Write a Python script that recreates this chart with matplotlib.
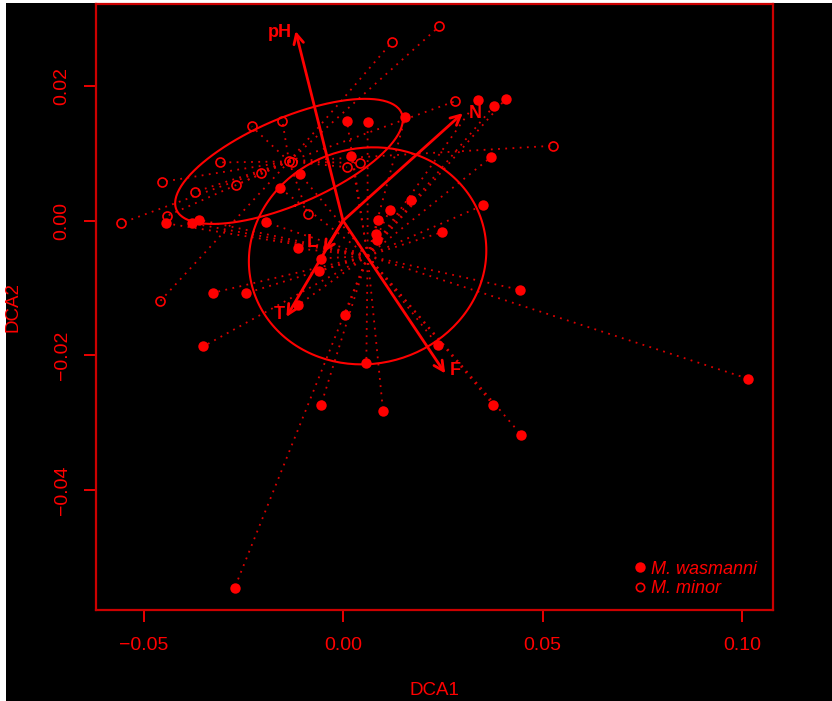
import numpy as np
import matplotlib
matplotlib.use("Agg")
import matplotlib.pyplot as plt
from matplotlib.lines import Line2D
from matplotlib.patches import Rectangle

plt.rcParams['font.family'] = ['Liberation Sans', 'DejaVu Sans']

# DCA site scores, M. wasmanni sites
was_x = [0.0010, 0.00616, 0.01560, 0.00208, -0.01087, -0.01570, 0.01693, 0.01167,
         0.00884, 0.00834, 0.00846, -0.04449, -0.03781, -0.03615, -0.01920, -0.01137,
         -0.00561, -0.00611, -0.03260, -0.02421, -0.01132, 0.00058, -0.03505, 0.03380,
         0.03771, 0.04081, 0.03713, 0.03520, 0.02486, 0.04427, 0.02379, 0.00583,
         -0.00551, 0.01002, -0.02714, 0.03763, 0.04464, 0.10155]
was_y = [0.01477, 0.01465, 0.01542, 0.00956, 0.00699, 0.00480, 0.00312, 0.00153,
         0.00015, -0.00193, -0.00290, -0.00037, -0.00037, 0.00015, -0.00025, -0.00412,
         -0.00561, -0.00754, -0.01071, -0.01075, -0.01257, -0.01398, -0.01869, 0.01799,
         0.01700, 0.01814, 0.00947, 0.00233, -0.00168, -0.01026, -0.01854, -0.02119,
         -0.02736, -0.02825, -0.05453, -0.02736, -0.03182, -0.02349]

# M. minor sites
min_x = [0.01227, 0.02411, -0.02288, -0.01520, -0.03072, -0.02046, -0.02672, -0.04549,
         -0.03723, -0.01357, -0.01287, 0.00100, 0.00416, -0.04404, -0.05556, -0.00881,
         -0.04592, 0.02794, 0.05258]
min_y = [0.02657, 0.02889, 0.01402, 0.01483, 0.00867, 0.00714, 0.00531, 0.00577,
         0.00427, 0.00882, 0.00870, 0.00796, 0.00858, 0.00074, -0.00034, 0.00094,
         -0.01200, 0.01774, 0.01115]

# envfit vectors
env_names = ['pH', 'N', 'F', 'T', 'L']
env_x = [-0.0119, 0.0300, 0.0256, -0.0142, -0.0049]
env_y = [0.0282, 0.0160, -0.0227, -0.0143, -0.0047]
env_lab_off = [(-11, -1), (9, 0), (7, 2), (-5, 1.5), (-8, 7)]

RED = '#ff0000'

fig = plt.figure(figsize=(8.32, 7.01), dpi=100, facecolor='white')
fig.patches.append(Rectangle((6 / 832, 0), 1, 698 / 701, transform=fig.transFigure,
                             facecolor='black', edgecolor='none', zorder=-10))
ax = fig.add_axes([96.3 / 832, 91 / 701, 677 / 832, 606 / 701])
ax.set_facecolor('black')

groups = [(np.array(was_x), np.array(was_y)), (np.array(min_x), np.array(min_y))]

# spiders and 1-sd ellipses
for gx, gy in groups:
    cx, cy = gx.mean(), gy.mean()
    for px, py in zip(gx, gy):
        ax.plot([cx, px], [cy, py], color='#dd0000', lw=1.3,
                linestyle=(0, (1, 3)), zorder=1)
    cov = np.cov(gx, gy)
    vals, vecs = np.linalg.eigh(cov)
    t = np.linspace(0, 2 * np.pi, 200)
    circ = np.vstack([np.cos(t), np.sin(t)])
    ell = vecs @ (np.sqrt(vals)[:, None] * circ)
    ax.plot(cx + ell[0], cy + ell[1], color=RED, lw=1.5, zorder=2)

ax.plot(was_x, was_y, 'o', color=RED, ms=7.5, mec='none', zorder=3)
ax.plot(min_x, min_y, 'o', mfc='none', mec=RED, ms=6.5, mew=1.2, zorder=3)

for name, ex, ey, off in zip(env_names, env_x, env_y, env_lab_off):
    ax.annotate('', xy=(ex, ey), xytext=(0, 0),
                arrowprops=dict(arrowstyle='->,head_length=0.7,head_width=0.35',
                                mutation_scale=10, color=RED, lw=2,
                                shrinkA=0, shrinkB=0), zorder=4)
    ax.annotate(name, xy=(ex, ey), xytext=off, textcoords='offset points',
                ha='center', va='center', color=RED, fontsize=13,
                fontweight='bold', zorder=5)

# R-style 4% axis extension
allx = np.concatenate([was_x, min_x])
ally = np.concatenate([was_y, min_y])
dx = 0.04 * (allx.max() - allx.min())
dy = 0.04 * (ally.max() - ally.min())
ax.set_xlim(allx.min() - dx, allx.max() + dx)
ax.set_ylim(ally.min() - dy, ally.max() + dy)

ax.set_xticks([-0.05, 0.0, 0.05, 0.10])
ax.set_xticklabels(['\u22120.05', '0.00', '0.05', '0.10'])
ax.set_yticks([-0.04, -0.02, 0.0, 0.02])
ax.set_yticklabels(['\u22120.04', '\u22120.02', '0.00', '0.02'],
                   rotation=90, va='center')
ax.tick_params(colors=RED, labelcolor=RED, length=8.5, width=1.3,
               labelsize=14, direction='out')
ax.tick_params(axis='x', pad=11)
ax.tick_params(axis='y', pad=10)
for s in ax.spines.values():
    s.set_color('#cc0000')
    s.set_linewidth(1.6)

ax.set_xlabel('DCA1', color=RED, fontsize=13.5)
ax.set_ylabel('DCA2', color=RED, fontsize=13.5)
ax.xaxis.set_label_coords(0.5, -0.119)
ax.yaxis.set_label_coords(-0.110, 0.5)

handles = [Line2D([], [], marker='o', ls='none', color=RED, mec='none', ms=7.5),
           Line2D([], [], marker='o', ls='none', mfc='none', mec=RED, ms=6, mew=1.2)]
leg = ax.legend(handles, ['M. wasmanni', 'M. minor'], loc='lower right',
                bbox_to_anchor=(1.0, -0.006), frameon=False, handlelength=0.6,
                handletextpad=0.3, labelspacing=0.15,
                prop={'style': 'italic', 'size': 13})
for t in leg.get_texts():
    t.set_color(RED)

fig.savefig('out.png', dpi=100, facecolor=fig.get_facecolor())
